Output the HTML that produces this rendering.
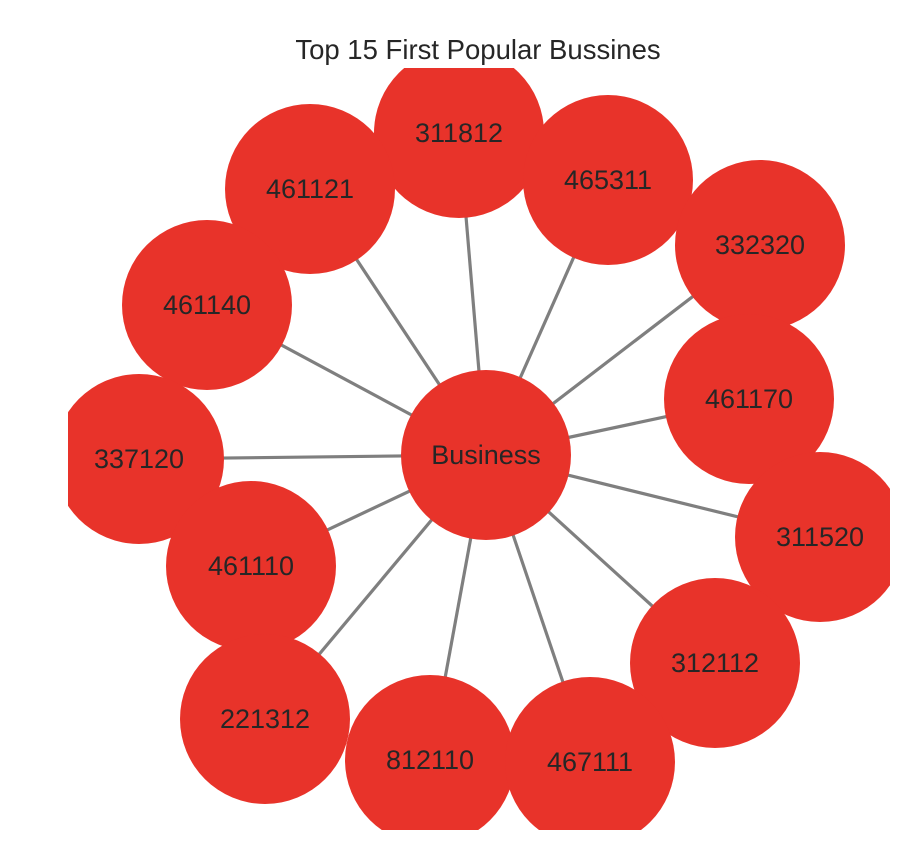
<!DOCTYPE html>
<html><head><meta charset="utf-8"><style>
html,body{margin:0;padding:0;background:#fff;}
svg{display:block;font-family:"Liberation Sans",Arial,sans-serif;}
</style></head><body>
<svg id="chart" width="922" height="850">
<defs><clipPath id="clip"><rect x="68" y="68" width="822" height="762"/></clipPath></defs>
<text x="478" y="59" font-size="27.5" fill="#262626" text-anchor="middle">Top 15 First Popular Bussines</text>
<g id="edges" clip-path="url(#clip)"></g>
<g id="nodes" clip-path="url(#clip)"></g>
<g id="labels" clip-path="url(#clip)"></g>
</svg>
<script>
const nodeLabels = ["Business","311812","461121","465311","332320","461140","461170","337120","311520","461110","312112","221312","812110","467111"];
const nodeX = [486,459,310,608,760,207,749,139,820,251,715,265,430,590];
const nodeY = [455,133,189,180,245,305,399,459,537,566,663,719,760,762];
const R = 85;
const NS = "http://www.w3.org/2000/svg";
const eg = document.getElementById('edges'), ng = document.getElementById('nodes'), lg = document.getElementById('labels');
for (let i = 1; i < nodeLabels.length; i++) {
  const l = document.createElementNS(NS, 'line');
  l.setAttribute('x1', nodeX[0]); l.setAttribute('y1', nodeY[0]);
  l.setAttribute('x2', nodeX[i]); l.setAttribute('y2', nodeY[i]);
  l.setAttribute('stroke', '#7f7f7f'); l.setAttribute('stroke-width', '3.2');
  
  
  eg.appendChild(l);
}
for (let i = 0; i < nodeLabels.length; i++) {
  const c = document.createElementNS(NS, 'circle');
  c.setAttribute('cx', nodeX[i]); c.setAttribute('cy', nodeY[i]); c.setAttribute('r', R);
  c.setAttribute('fill', '#e8332a');
  
  
  ng.appendChild(c);
  const t = document.createElementNS(NS, 'text');
  t.setAttribute('x', nodeX[i]); t.setAttribute('y', nodeY[i] + 9);
  t.setAttribute('text-anchor', 'middle'); t.setAttribute('font-size', '27'); t.setAttribute('fill', '#262626');
  t.textContent = nodeLabels[i];
  
  
  lg.appendChild(t);
}
</script>
</body></html>
